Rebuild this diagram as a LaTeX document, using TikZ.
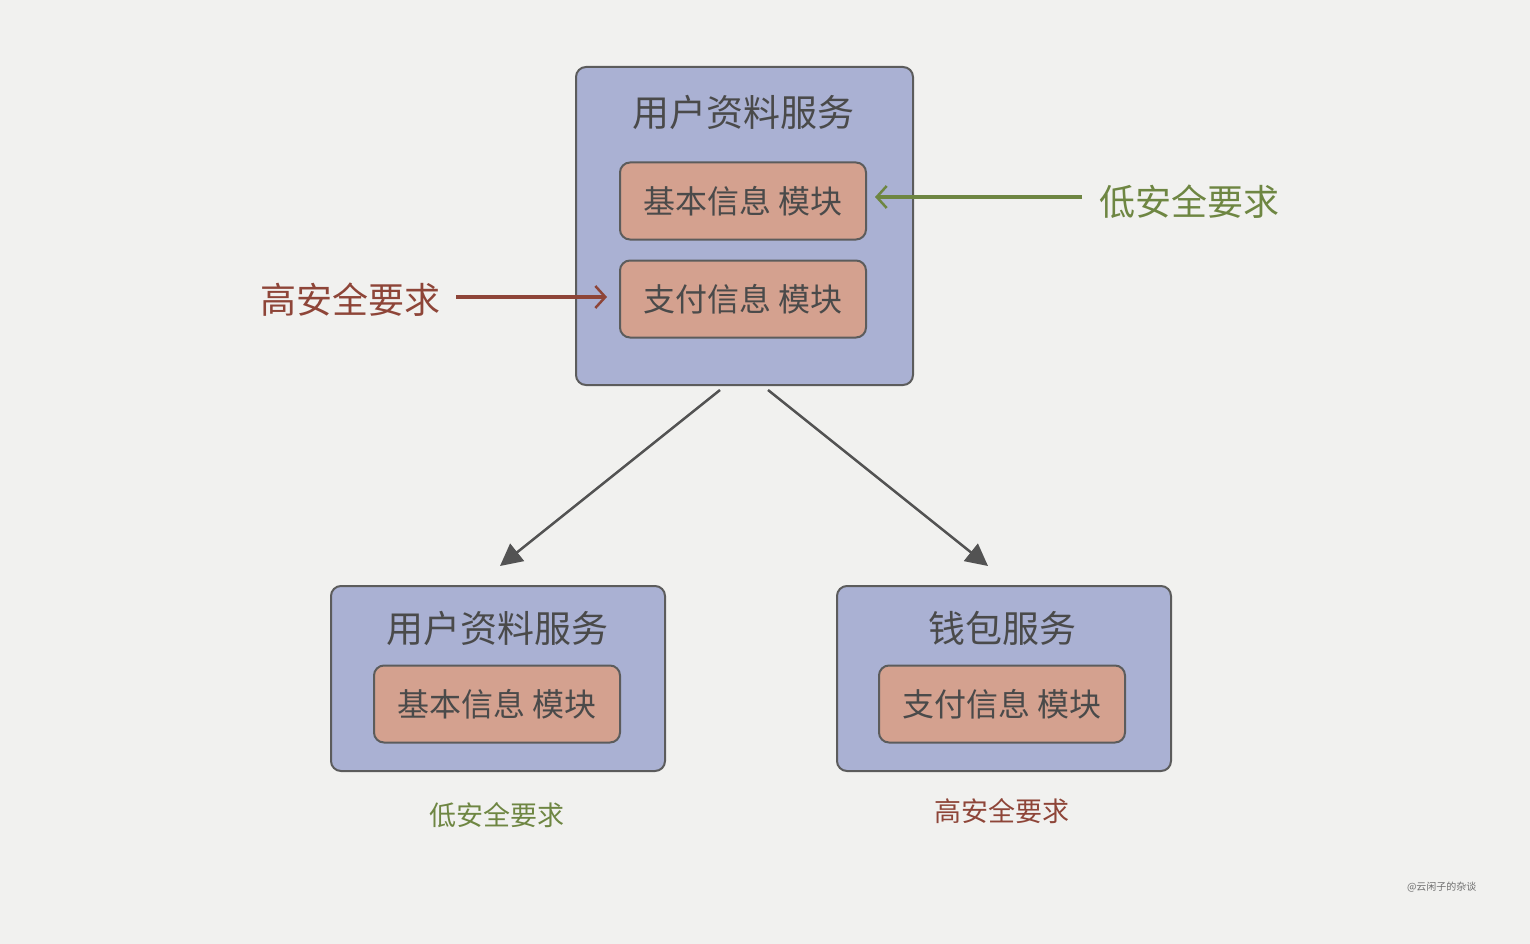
\documentclass[tikz,border=0pt]{standalone}
\usepackage{fontspec}
\newfontfamily\cjk{Noto Sans CJK SC}
\usetikzlibrary{arrows.meta}
\definecolor{bg}{HTML}{F1F1EF}
\definecolor{svc}{HTML}{AAB1D3}
\definecolor{mod}{HTML}{D4A18F}
\definecolor{edge}{HTML}{5C5C5C}
\definecolor{txt}{HTML}{4A4A4A}
\definecolor{lowc}{HTML}{6E8642}
\definecolor{highc}{HTML}{8E4538}
\tikzset{
  svcbox/.style={draw=edge, line width=2pt, fill=svc, rounded corners=10pt, anchor=north west, inner sep=0pt},
  modbox/.style={draw=edge, line width=2pt, fill=mod, rounded corners=10pt, minimum width=246pt, minimum height=77pt, inner sep=0pt, font=\cjk\fontsize{32}{32}\selectfont, text=txt},
  svctitle/.style={font=\cjk\fontsize{37}{37}\selectfont, text=txt},
  biglabel/.style={font=\cjk\fontsize{36}{36}\selectfont},
  smalllabel/.style={font=\cjk\fontsize{27}{27}\selectfont},
  flow/.style={draw=edge!90!black, line width=2.5pt, -{Triangle[length=22pt,width=22pt]}},
  hint/.style={line width=3.5pt, -{Straight Barb[length=10pt,width=22pt,line width=2.5pt]}},
}
\begin{document}
\begin{tikzpicture}[x=1pt,y=-1pt]
\fill[bg] (0,0) rectangle (1530,944);
\useasboundingbox (0,0) rectangle (1530,944);

% top service
\node[svcbox, minimum width=337pt, minimum height=318pt] (top) at (575,66) {};
\node[svctitle] (toptitle) at (743,112) {用户资料服务};
\node[modbox] (topbasic) at (743,201) {基本信息\ 模块};
\node[modbox] (toppay) at (743,299) {支付信息\ 模块};

% side labels
\node[biglabel, text=lowc, anchor=west] (lowlbl) at (1096,202) {低安全要求};
\node[biglabel, text=highc, anchor=east] (highlbl) at (444,300) {高安全要求};
\coordinate (lowstart) at ([xshift=-14pt,yshift=5pt]lowlbl.west);
\coordinate (lowend) at ([xshift=8pt]lowstart -| topbasic.east);
\draw[hint, draw=lowc] (lowstart) -- (lowend);
\coordinate (highstart) at ([xshift=12pt,yshift=3pt]highlbl.east);
\coordinate (highend) at ([xshift=-12pt]highstart -| toppay.west);
\draw[hint, draw=highc] (highstart) -- (highend);

% bottom-left service
\node[svcbox, minimum width=334pt, minimum height=185pt] (left) at (330,585) {};
\node[svctitle] (lefttitle) at (497,628) {用户资料服务};
\node[modbox] (leftbasic) at (497,704) {基本信息\ 模块};
\node[smalllabel, text=lowc] (leftlbl) at (497,815) {低安全要求};

% bottom-right service
\node[svcbox, minimum width=334pt, minimum height=185pt] (right) at (836,585) {};
\node[svctitle] (righttitle) at (1002,628) {钱包服务};
\node[modbox] (rightpay) at (1002,704) {支付信息\ 模块};
\node[smalllabel, text=highc] (rightlbl) at (1002,811) {高安全要求};

% split arrows
\coordinate (splitL) at (720,390);
\coordinate (splitR) at (768,390);
\coordinate (endL) at (500,566);
\coordinate (endR) at (988,566);
\draw[flow] (splitL) -- (endL);
\draw[flow] (splitR) -- (endR);

% watermark
\node[font=\cjk\fontsize{10}{10}\selectfont, text=txt!80, anchor=east] (mark) at (1480,887) {@云闲子的杂谈};
\end{tikzpicture}
\end{document}
